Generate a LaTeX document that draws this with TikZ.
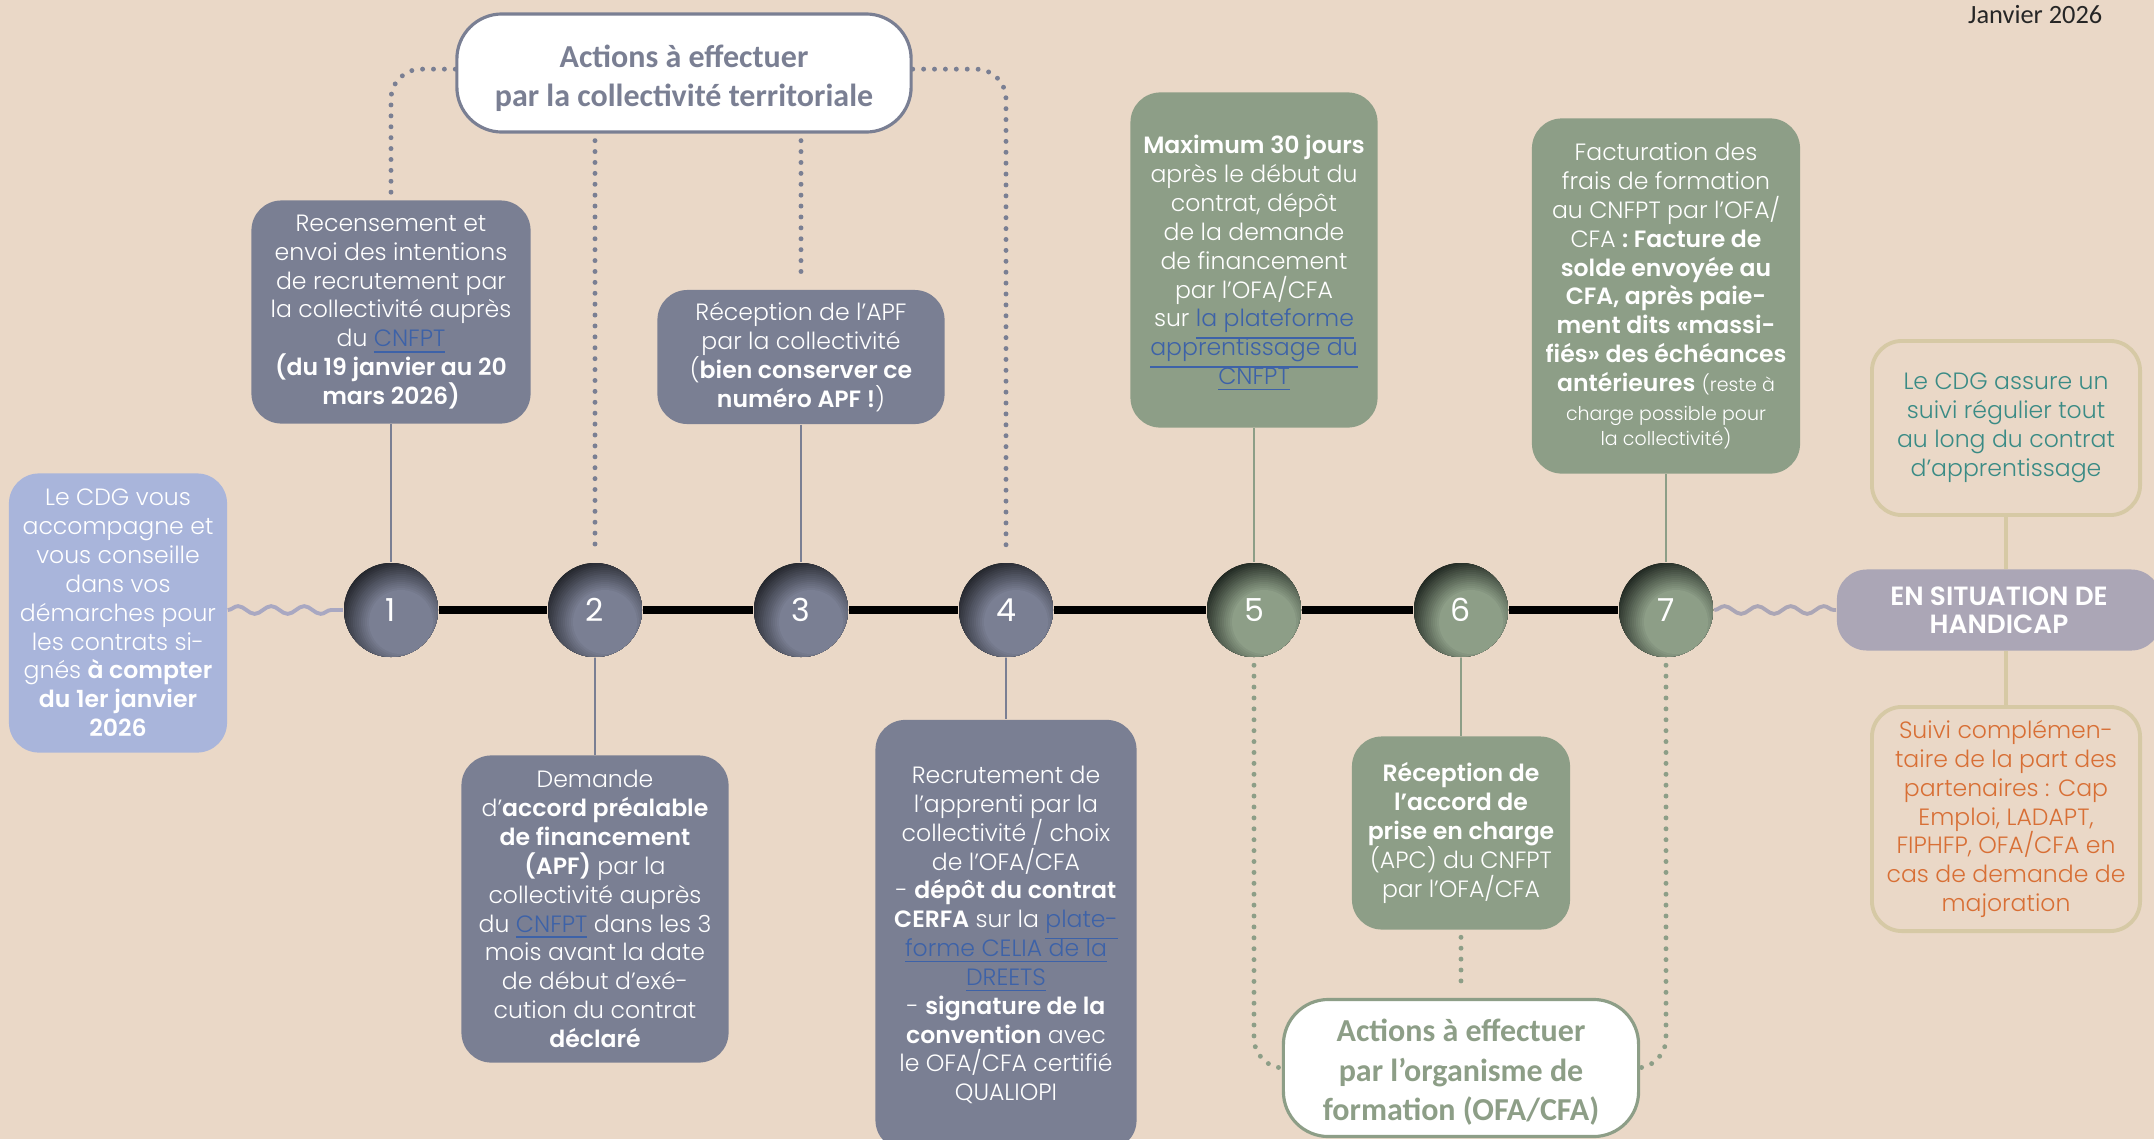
\documentclass[tikz,border=0pt]{standalone}
\usepackage{fontspec}
\setmainfont{Poppins}[UprightFont=* Light, BoldFont=* SemiBold]
\newfontfamily\titrefont{Carlito}
\newfontfamily\chiffre{Poppins}
\usetikzlibrary{decorations.pathmorphing}

\definecolor{fond}{RGB}{234,216,199}
\definecolor{grisbleu}{RGB}{122,127,147}
\definecolor{grisfonce}{RGB}{34,36,42}
\definecolor{vert}{RGB}{141,158,135}
\definecolor{vertfonce}{RGB}{30,37,31}
\definecolor{bleuclair}{RGB}{169,181,219}
\definecolor{mauve}{RGB}{171,166,182}
\definecolor{kaki}{RGB}{214,201,165}
\definecolor{sarcelle}{RGB}{58,139,133}
\definecolor{orangec}{RGB}{216,111,53}
\definecolor{lien}{RGB}{61,98,168}
\definecolor{ondeg}{RGB}{169,168,194}

\newcommand\lien[1]{\textcolor{lien}{\smash{\underline{#1}}}}
\newcommand\corps{\fontsize{6.7}{8.2}\selectfont}
\newcommand\petit[1]{{\fontsize{5.4}{8.2}\selectfont #1}}

\begin{document}
\begin{tikzpicture}[x=0.01cm,y=-0.01cm,
  boite/.style={rounded corners=0.3cm,align=center,inner sep=0pt,text=white,font=\corps},
  bulle/.style={circle,minimum size=0.95cm,inner sep=0pt,text=white,font=\chiffre\fontsize{9}{9}\selectfont},
  titre/.style={fill=white,line width=0.9pt,rounded corners=0.45cm,align=center,inner sep=0pt,font=\titrefont\bfseries\fontsize{9.1}{10.9}\selectfont},
  cadre/.style={draw=kaki,line width=1.1pt,rounded corners=0.3cm,align=center,inner sep=0pt,font=\corps},
  pointG/.style={grisbleu,line width=1.4pt,line cap=round,dash pattern=on 0pt off 3.1pt,rounded corners=0.3cm},
  pointV/.style={vert,line width=1.4pt,line cap=round,dash pattern=on 0pt off 3.1pt,rounded corners=0.3cm},
  onde/.style={decorate,decoration={snake,segment length=9.4pt,amplitude=1.1pt},line width=1.1pt}]
\fill[fond] (0,0) rectangle (2154,1139);
\useasboundingbox (0,0) rectangle (2154,1139);

\node[anchor=east,inner sep=0pt,text=black!85,font=\titrefont\fontsize{7.5}{8}\selectfont] (date) at (2103,15) {Janvier 2026};

\node[titre,draw=grisbleu,text=grisbleu,minimum width=4.54cm,minimum height=1.18cm] (titreC) at (684,73) {\rule{0pt}{9.3pt}Actions à effectuer\\par la collectivité territoriale};
\node[titre,draw=vert,text=vert,minimum width=3.55cm,minimum height=1.37cm,font=\titrefont\bfseries\fontsize{9.1}{11.2}\selectfont] (titreO) at (1461,1068) {\rule{0pt}{8.9pt}Actions à effectuer\\par l’organisme de\\formation (OFA/CFA)};

\foreach \i/\x/\c/\f in {1/391/grisbleu/grisfonce,2/595/grisbleu/grisfonce,3/801/grisbleu/grisfonce,4/1006/grisbleu/grisfonce,5/1254/vert/vertfonce,6/1461/vert/vertfonce,7/1666/vert/vertfonce}{
  \begin{scope}
    \clip (\x,610) circle (47);
    \fill[\f] (\x,610) circle (47);
    \foreach \k in {0,...,16}{
      \pgfmathtruncatemacro\m{100*\k/16}
      \fill[\c!\m!\f] (\x+10,622) circle (64-2*\k);
    }
  \end{scope}
  \node[bulle] (n\i) at (\x,610) {\i};
}

\node[boite,fill=bleuclair,minimum width=2.18cm,minimum height=2.79cm] (cdg) at (118,613) {Le CDG vous\\accompagne et\\vous conseille\\dans vos\\démarches pour\\les contrats si-\\gnés \textbf{à compter}\\\textbf{du 1er janvier}\\\textbf{2026}};

\node[boite,fill=grisbleu,minimum width=2.79cm,minimum height=2.23cm] (b1) at (391,312) {Recensement et\\envoi des intentions\\de recrutement par\\la collectivité auprès\\du \lien{CNFPT}\\\textbf{(du 19 janvier au 20}\\\textbf{mars 2026)}};
\node[boite,fill=grisbleu,minimum width=2.67cm,minimum height=3.07cm] (b2) at (595,909) {Demande\\d’\textbf{accord préalable}\\\textbf{de financement}\\\textbf{(APF)} par la\\collectivité auprès\\du \lien{CNFPT} dans les 3\\mois avant la date\\de début d’exé-\\cution du contrat\\\textbf{déclaré}};
\node[boite,fill=grisbleu,minimum width=2.87cm,minimum height=1.34cm] (b3) at (801,357) {Réception de l’APF\\par la collectivité\\(\textbf{bien conserver ce}\\\textbf{numéro APF !})};
\node[boite,fill=grisbleu,minimum width=2.61cm,minimum height=4.30cm] (b4) at (1006,935) {Recrutement de\\l’apprenti par la\\collectivité / choix\\de l’OFA/CFA\\- \textbf{dépôt du contrat}\\\textbf{CERFA} sur la \lien{plate-}\\\lien{forme CELIA de la}\\\lien{DREETS}\\- \textbf{signature de la}\\\textbf{convention} avec\\le OFA/CFA certifié\\QUALIOPI};
\node[boite,fill=vert,minimum width=2.47cm,minimum height=3.35cm] (b5) at (1254,260) {\textbf{Maximum 30 jours}\\après le début du\\contrat, dépôt\\de la demande\\de financement\\par l’OFA/CFA\\sur \lien{la plateforme}\\\lien{apprentissage du}\\\lien{CNFPT}};
\node[boite,fill=vert,minimum width=2.18cm,minimum height=1.93cm] (b6) at (1461,833) {\textbf{Réception de}\\\textbf{l’accord de}\\\textbf{prise en charge}\\(APC) du CNFPT\\par l’OFA/CFA};
\node[boite,fill=vert,minimum width=2.68cm,minimum height=3.55cm] (b7) at (1666,296) {Facturation des\\frais de formation\\au CNFPT par l’OFA/\\CFA \textbf{: Facture de}\\\textbf{solde envoyée au}\\\textbf{CFA, après paie-}\\\textbf{ment dits «massi-}\\\textbf{fiés» des échéances}\\\textbf{antérieures} \petit{(reste à}\\\petit{charge possible pour}\\[-1pt]\petit{la collectivité)}};

\node[boite,fill=mauve,minimum width=3.24cm,minimum height=0.81cm,font=\bfseries\fontsize{7.5}{7.9}\selectfont] (hand) at (1999,610) {EN SITUATION DE\\HANDICAP};
\node[cadre,text=sarcelle,minimum width=2.68cm,minimum height=1.74cm] (suivi) at (2006,428) {Le CDG assure un\\suivi régulier tout\\au long du contrat\\d’apprentissage};
\node[cadre,text=orangec,minimum width=2.68cm,minimum height=2.24cm] (major) at (2006,819) {Suivi complémen-\\taire de la part des\\partenaires : Cap\\Emploi, LADAPT,\\FIPHFP, OFA/CFA en\\cas de demande de\\majoration};

\foreach \a/\b in {1/2,2/3,3/4,4/5,5/6,6/7}
  \draw[line width=2.3pt] (n\a) -- (n\b);
\draw[onde,ondeg] (cdg.east |- n1) -- (n1.west);
\draw[onde,mauve] (n7.east) -- (hand.west);

\draw[grisbleu,line width=0.8pt] (b1.south) -- (n1.north);
\draw[grisbleu,line width=0.8pt] (n2.south) -- (b2.north);
\draw[grisbleu,line width=0.8pt] (b3.south) -- (n3.north);
\draw[grisbleu,line width=0.8pt] (n4.south) -- (b4.north);
\draw[vert,line width=0.8pt] (b5.south) -- (n5.north);
\draw[vert,line width=0.8pt] (n6.south) -- (b6.north);
\draw[vert,line width=0.8pt] (b7.south) -- (n7.north);
\draw[kaki,line width=1.1pt] (suivi.south) -- (suivi.south |- hand.north);
\draw[kaki,line width=1.1pt] (major.north |- hand.south) -- (major.north);

\draw[pointG,shorten >=2pt] ([yshift=1.1pt]titreC.west) -| (b1.north);
\draw[pointG,shorten >=2pt] ([yshift=1.1pt]titreC.east) -| (n4.north);
\draw[pointG,shorten <=2pt,shorten >=2pt] (titreC.south -| n2) -- (n2.north);
\draw[pointG,shorten <=2pt,shorten >=2pt] (titreC.south -| b3) -- (b3.north);
\draw[pointV,shorten <=2pt] (n5.south) |- (titreO.west);
\draw[pointV,shorten <=2pt] (n7.south) |- (titreO.east);
\draw[pointV,shorten <=2pt,shorten >=2pt] (b6.south) -- (titreO.north);
\end{tikzpicture}
\end{document}
